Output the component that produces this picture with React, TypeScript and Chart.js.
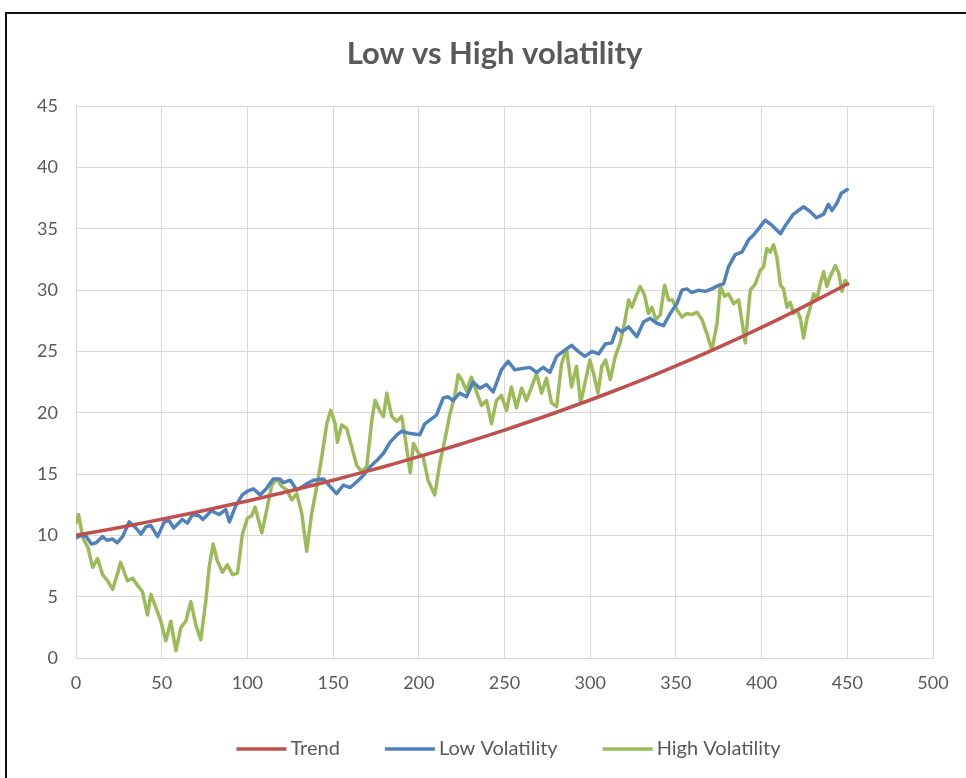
import { useEffect, useRef } from "react";
import { Chart, registerables } from "chart.js";

Chart.register(...registerables);

const FONT = "Lato, 'Liberation Sans', sans-serif";
const TEXT_COLOR = "#595959";
const GRID_COLOR = "#d9d9d9";

const chartTitle = "Low vs High volatility";
const seriesNames = ["Trend", "Low Volatility", "High Volatility"];
const seriesColors = ["#C0504D", "#4F81BD", "#9BBB59"];

const xMin = 0;
const xMax = 500;
const xStep = 50;
const yMin = 0;
const yMax = 45;
const yStep = 5;

const trendX = [0, 10, 20, 30, 40, 50, 60, 70, 80, 90, 100, 110, 120, 130, 140, 150, 160, 170, 180, 190, 200, 210, 220, 230, 240, 250, 260, 270, 280, 290, 300, 310, 320, 330, 340, 350, 360, 370, 380, 390, 400, 410, 420, 430, 440, 450];
const trendY = [10.0, 10.25, 10.5, 10.77, 11.04, 11.32, 11.6, 11.89, 12.19, 12.5, 12.81, 13.13, 13.46, 13.8, 14.15, 14.5, 14.87, 15.24, 15.62, 16.02, 16.42, 16.83, 17.25, 17.69, 18.13, 18.59, 19.06, 19.53, 20.02, 20.53, 21.04, 21.57, 22.11, 22.67, 23.24, 23.82, 24.42, 25.03, 25.66, 26.3, 26.96, 27.64, 28.33, 29.04, 29.77, 30.5];

const lowX = [0, 3, 6, 9, 11.7, 15.5, 18, 21.4, 24, 27.2, 31, 35, 37.9, 40.8, 43.7, 47.6, 51.5, 54.4, 57, 62, 65, 68, 71.8, 74, 79, 83.5, 87.4, 89.5, 93.2, 97, 100, 103.5, 107.4, 111, 115, 119, 121, 125, 128.8, 134.6, 138.5, 144.4, 148.2, 152, 156, 160, 164.8, 167.7, 171.6, 175.5, 179.4, 183.3, 187.2, 190, 195, 200.6, 203.5, 207.4, 210.3, 214.2, 217.1, 220, 223.9, 227.8, 231.7, 235.6, 239.5, 243.4, 248.2, 252.1, 256, 259.9, 264.8, 268.7, 272.6, 276.5, 280.4, 284.2, 289.1, 293, 296.9, 301, 304.9, 308.8, 312.6, 315.6, 318.5, 322.4, 327.2, 331.1, 335, 338.9, 342.8, 346.7, 350.6, 353.5, 356.4, 359.3, 363.2, 367.1, 371, 374.9, 377.8, 380.7, 384.6, 388.5, 392.4, 395.3, 398.2, 402, 406, 411, 414, 418.6, 424.5, 428.4, 432, 436.2, 439, 441, 444, 446.5, 450];
const lowY = [9.8, 10.0, 9.9, 9.3, 9.4, 9.9, 9.6, 9.7, 9.4, 9.9, 11.1, 10.6, 10.1, 10.7, 10.8, 9.9, 11.1, 11.2, 10.6, 11.3, 11.0, 11.7, 11.6, 11.3, 12.0, 11.7, 12.1, 11.1, 12.4, 13.3, 13.6, 13.8, 13.3, 13.8, 14.6, 14.6, 14.3, 14.5, 13.7, 14.2, 14.5, 14.6, 14.0, 13.4, 14.1, 13.9, 14.5, 14.9, 15.6, 16.1, 16.7, 17.6, 18.2, 18.5, 18.3, 18.2, 19.1, 19.5, 19.8, 21.2, 21.3, 21.0, 21.6, 21.3, 22.5, 22.0, 22.3, 21.7, 23.5, 24.2, 23.5, 23.6, 23.7, 23.3, 23.7, 23.3, 24.6, 25.0, 25.5, 25.0, 24.6, 25.0, 24.8, 25.6, 25.7, 26.9, 26.6, 27.0, 26.2, 27.4, 27.7, 27.3, 27.1, 28.1, 28.9, 30.0, 30.1, 29.8, 30.0, 29.9, 30.1, 30.4, 30.5, 31.9, 32.9, 33.1, 34.1, 34.5, 35.0, 35.7, 35.3, 34.6, 35.3, 36.2, 36.8, 36.4, 35.9, 36.2, 37.0, 36.5, 37.1, 37.9, 38.2];

const highX = [0, 1.5, 4, 7, 9.7, 12.6, 15.5, 18.4, 21.4, 24.3, 26, 30, 33, 36, 38.8, 41.7, 43.7, 46.6, 49.5, 52.4, 55.3, 58.3, 61.2, 64.1, 67, 69.9, 72.8, 75.7, 77.7, 80, 82.5, 85.4, 88.3, 91.3, 94.2, 97.1, 100, 102.5, 104.5, 106.4, 108.4, 111.3, 114.2, 117.1, 120, 123, 125.9, 128.8, 131.7, 134.6, 137.5, 140.5, 143.4, 146.3, 148.6, 151.2, 152.5, 155, 158, 160.9, 163.8, 166.7, 169.6, 172.6, 174.5, 177, 179.4, 181.3, 184.2, 187.2, 190, 192, 195, 196.9, 199.8, 202.5, 205.4, 209.3, 212.3, 215.2, 218, 221, 223, 225, 227.8, 230.7, 233.7, 236.6, 239.5, 242.4, 245.3, 248.2, 251.2, 254, 257, 260, 262.8, 265.8, 268.7, 271.6, 274.5, 277.4, 280.4, 283.3, 286.2, 289.1, 292, 294.4, 296.9, 299.8, 302, 304.5, 306.8, 309, 311.7, 314.6, 317.5, 320, 322.4, 324.3, 326.7, 329.2, 331.7, 334, 336, 338.3, 340.9, 343.4, 345.7, 348, 350.6, 353.5, 356.4, 359.3, 362.3, 365.2, 368, 371, 374, 375.9, 378.4, 380.7, 383.7, 386.6, 390.5, 393.4, 396.3, 399.2, 401.2, 403, 405, 407, 409, 411, 412.8, 414.8, 416.7, 418.7, 420.6, 422.6, 424.5, 426.5, 428.4, 430.4, 432.3, 434.2, 436.2, 438.1, 440, 443, 445, 446.9, 448.8, 450.4];
const highY = [11.0, 11.7, 9.8, 9.0, 7.4, 8.1, 6.8, 6.3, 5.6, 6.9, 7.8, 6.3, 6.5, 5.9, 5.4, 3.5, 5.2, 4.1, 3.0, 1.4, 3.0, 0.6, 2.5, 3.0, 4.6, 2.7, 1.5, 4.6, 7.4, 9.3, 7.9, 7.0, 7.6, 6.8, 6.9, 10.1, 11.4, 11.6, 12.3, 11.3, 10.2, 12.1, 14.1, 14.6, 14.0, 13.7, 12.9, 13.4, 11.8, 8.7, 11.8, 14.0, 16.4, 19.1, 20.2, 19.1, 17.6, 19.0, 18.7, 17.2, 15.7, 15.2, 15.6, 19.4, 21.0, 20.2, 19.7, 21.6, 19.7, 19.3, 19.7, 18.0, 15.1, 17.5, 16.7, 16.4, 14.5, 13.3, 15.9, 17.8, 19.8, 21.4, 23.1, 22.7, 21.8, 22.9, 21.7, 20.6, 21.0, 19.1, 21.0, 21.4, 20.2, 22.1, 20.4, 22.0, 21.0, 22.1, 23.2, 21.6, 22.8, 20.8, 20.5, 24.0, 25.2, 22.1, 23.8, 20.8, 22.4, 24.3, 23.2, 21.6, 23.8, 24.3, 22.7, 24.6, 25.7, 27.3, 29.2, 28.6, 29.5, 30.3, 29.6, 28.1, 28.6, 27.6, 28.0, 30.4, 29.2, 29.2, 28.4, 27.8, 28.1, 28.0, 28.2, 27.6, 26.5, 25.1, 27.3, 30.3, 29.5, 29.7, 28.9, 29.2, 25.7, 30.0, 30.5, 31.6, 31.9, 33.4, 33.1, 33.7, 32.6, 30.4, 30.1, 28.6, 29.0, 28.1, 28.4, 27.7, 26.1, 27.7, 28.6, 29.7, 29.3, 30.5, 31.5, 30.3, 31.1, 32.0, 31.4, 29.9, 30.8, 30.5];

const LINE_WIDTH = 3.5;
const LEGEND_FONT_SIZE = 20;
const LEGEND_LINE_LEN = 50;
const LEGEND_LINE_GAP = 4;
const LEGEND_ITEM_GAP = 45;
const LEGEND_FROM_BOTTOM = 29;
const TITLE_SHIFT = 28;

function pairs(xs: number[], ys: number[]) {
  return xs.map((x, i) => ({ x, y: ys[i] }));
}

const shiftTitlePlugin = {
  id: "shiftTitle",
  afterLayout(chart: any) {
    const t = chart.titleBlock;
    if (t) {
      t.left += TITLE_SHIFT;
      t.right += TITLE_SHIFT;
    }
  },
};

const bottomLegendPlugin = {
  id: "bottomLegend",
  afterDraw(chart: any) {
    const ctx = chart.ctx as CanvasRenderingContext2D;
    const area = chart.chartArea;
    ctx.save();
    ctx.font = `${LEGEND_FONT_SIZE}px ${FONT}`;
    const widths = seriesNames.map((n) => ctx.measureText(n).width);
    const total =
      widths.reduce((a, w) => a + LEGEND_LINE_LEN + LEGEND_LINE_GAP + w, 0) +
      LEGEND_ITEM_GAP * (seriesNames.length - 1);
    let x = (area.left + area.right) / 2 - total / 2 + 4;
    const y = chart.height - LEGEND_FROM_BOTTOM;
    seriesNames.forEach((name, i) => {
      ctx.strokeStyle = seriesColors[i];
      ctx.lineWidth = LINE_WIDTH;
      ctx.lineCap = "butt";
      ctx.beginPath();
      ctx.moveTo(x, y);
      ctx.lineTo(x + LEGEND_LINE_LEN, y);
      ctx.stroke();
      x += LEGEND_LINE_LEN + LEGEND_LINE_GAP;
      ctx.fillStyle = TEXT_COLOR;
      ctx.textAlign = "left";
      ctx.textBaseline = "middle";
      ctx.fillText(name, x, y);
      x += widths[i] + LEGEND_ITEM_GAP;
    });
    ctx.restore();
  },
};

export default function App() {
  const ref = useRef<HTMLCanvasElement | null>(null);

  useEffect(() => {
    document.body.style.margin = "0";
    const canvas = ref.current;
    if (!canvas) return;
    const series = [pairs(trendX, trendY), pairs(lowX, lowY), pairs(highX, highY)];
    const chart = new Chart(canvas, {
      type: "scatter",
      data: {
        datasets: series.map((d, i) => ({
          label: seriesNames[i],
          data: d,
          showLine: true,
          borderColor: seriesColors[i],
          backgroundColor: seriesColors[i],
          borderWidth: LINE_WIDTH,
          pointRadius: 0,
          pointHoverRadius: 0,
          tension: 0,
          borderJoinStyle: "round" as const,
          borderCapStyle: "round" as const,
        })),
      },
      options: {
        animation: false,
        responsive: false,
        maintainAspectRatio: false,
        events: [],
        layout: { padding: { left: 0, right: 33, top: 0, bottom: 85 } },
        plugins: {
          title: {
            display: true,
            text: chartTitle,
            color: TEXT_COLOR,
            font: { family: FONT, size: 31, weight: "bold" },
            padding: { top: 35, bottom: 34 },
          },
          legend: { display: false },
          tooltip: { enabled: false },
        },
        scales: {
          x: {
            type: "linear",
            min: xMin,
            max: xMax,
            ticks: { stepSize: xStep, padding: 14, color: TEXT_COLOR, font: { family: FONT, size: 18 } },
            grid: { color: GRID_COLOR, drawTicks: false, lineWidth: 1 },
            border: { color: GRID_COLOR },
            afterFit: (s: any) => {
              s.height = 35;
            },
          },
          y: {
            type: "linear",
            min: yMin,
            max: yMax,
            ticks: { stepSize: yStep, padding: 18, color: TEXT_COLOR, font: { family: FONT, size: 18 } },
            grid: { color: GRID_COLOR, drawTicks: false, lineWidth: 1 },
            border: { color: GRID_COLOR },
            afterFit: (s: any) => {
              s.width = 76;
            },
          },
        },
      },
      plugins: [shiftTitlePlugin, bottomLegendPlugin],
    });
    return () => chart.destroy();
  }, []);

  return (
    <div style={{ position: "fixed", left: 0, top: 0, width: 966, height: 778, overflow: "hidden", background: "#fff" }}>
      <canvas ref={ref} width={966} height={778} style={{ display: "block" }} />
      <div
        style={{
          position: "absolute",
          left: 5,
          top: 12,
          width: 980,
          height: 800,
          borderTop: "2px solid #111",
          borderLeft: "2px solid #111",
          pointerEvents: "none",
        }}
      />
    </div>
  );
}
